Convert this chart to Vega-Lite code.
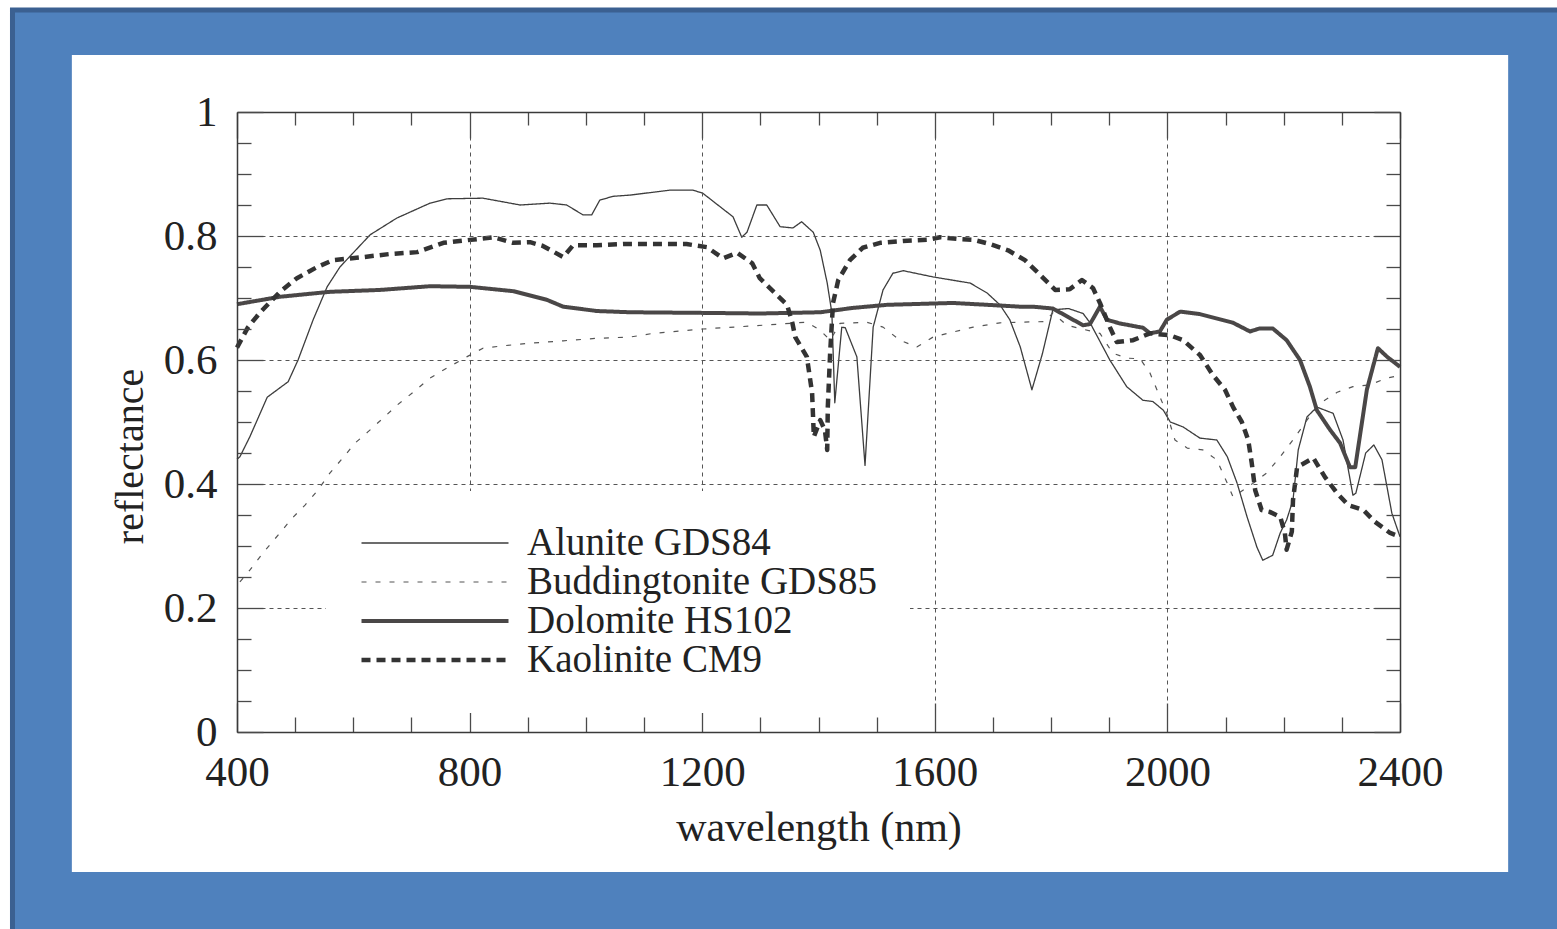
{
  "$schema": "https://vega.github.io/schema/vega-lite/v6.json",
  "width": 1163,
  "height": 620,
  "autosize": {"type": "none"},
  "padding": {"left": 237, "top": 112, "right": 157, "bottom": 197},
  "background": "#ffffff",
  "config": {
    "view": {"stroke": null},
    "font": "Liberation Serif",
    "axis": {
      "domainColor": "#3a3a3a",
      "domainWidth": 1.5,
      "tickColor": "#4a4a4a",
      "tickWidth": 1.3,
      "labelColor": "#222222",
      "titleColor": "#222222",
      "labelFont": "Liberation Serif",
      "titleFont": "Liberation Serif",
      "titleFontWeight": "normal",
      "zindex": 1
    },
    "legend": {"labelFont": "Liberation Serif", "labelColor": "#222222"}
  },
  "layer": [
    {
      "data": {"values": [{}]},
      "mark": {"type": "rect", "fill": "#4F81BD", "stroke": "#3B6091", "strokeWidth": 5, "clip": false},
      "encoding": {
        "x": {
          "datum": 13.9, "type": "quantitative",
          "scale": {"domain": [400, 2400], "nice": false, "zero": false},
          "axis": {
            "orient": "top", "title": null, "labels": false, "grid": false, "zindex": 1,
            "values": [400,500,600,700,800,900,1000,1100,1200,1300,1400,1500,1600,1700,1800,1900,2000,2100,2200,2300,2400],
            "tickSize": {"condition": {"test": "datum.value % 400 === 0", "value": -26}, "value": -13}
          }
        },
        "x2": {"datum": 2800},
        "y": {
          "datum": 1.1645, "type": "quantitative",
          "scale": {"domain": [0, 1], "nice": false, "zero": false},
          "axis": {
            "orient": "right", "title": null, "labels": false, "grid": false, "zindex": 1,
            "values": [0,0.05,0.1,0.15,0.2,0.25,0.3,0.35,0.4,0.45,0.5,0.55,0.6,0.65,0.7,0.75,0.8,0.85,0.9,0.95,1],
            "tickSize": {"condition": {"test": "abs(datum.value*5 - round(datum.value*5)) < 1e-6", "value": -26}, "value": -14}
          }
        },
        "y2": {"datum": -0.5}
      }
    },
    {
      "data": {"values": [{}]},
      "mark": {"type": "rect", "fill": "#ffffff", "clip": false},
      "encoding": {
        "x": {"datum": 116, "type": "quantitative", "scale": {"domain": [400, 2400], "nice": false, "zero": false}, "axis": null},
        "x2": {"datum": 2586},
        "y": {"datum": 1.092, "type": "quantitative", "scale": {"domain": [0, 1], "nice": false, "zero": false}, "axis": null},
        "y2": {"datum": -0.226}
      }
    },
    {
      "data": {"values": [
        {"m": "Alunite GDS84", "w": 400, "r": 0.44},
        {"m": "Alunite GDS84", "w": 405, "r": 0.444},
        {"m": "Alunite GDS84", "w": 422, "r": 0.476},
        {"m": "Alunite GDS84", "w": 452, "r": 0.54},
        {"m": "Alunite GDS84", "w": 488, "r": 0.565},
        {"m": "Alunite GDS84", "w": 505, "r": 0.6},
        {"m": "Alunite GDS84", "w": 531, "r": 0.665},
        {"m": "Alunite GDS84", "w": 555, "r": 0.718},
        {"m": "Alunite GDS84", "w": 577, "r": 0.75},
        {"m": "Alunite GDS84", "w": 629, "r": 0.802},
        {"m": "Alunite GDS84", "w": 675, "r": 0.829},
        {"m": "Alunite GDS84", "w": 732, "r": 0.853},
        {"m": "Alunite GDS84", "w": 761, "r": 0.86},
        {"m": "Alunite GDS84", "w": 823, "r": 0.861},
        {"m": "Alunite GDS84", "w": 887, "r": 0.85},
        {"m": "Alunite GDS84", "w": 938, "r": 0.853},
        {"m": "Alunite GDS84", "w": 967, "r": 0.85},
        {"m": "Alunite GDS84", "w": 995, "r": 0.834},
        {"m": "Alunite GDS84", "w": 1010, "r": 0.834},
        {"m": "Alunite GDS84", "w": 1024, "r": 0.858},
        {"m": "Alunite GDS84", "w": 1047, "r": 0.864},
        {"m": "Alunite GDS84", "w": 1076, "r": 0.866},
        {"m": "Alunite GDS84", "w": 1145, "r": 0.874},
        {"m": "Alunite GDS84", "w": 1184, "r": 0.874},
        {"m": "Alunite GDS84", "w": 1201, "r": 0.869},
        {"m": "Alunite GDS84", "w": 1231, "r": 0.847},
        {"m": "Alunite GDS84", "w": 1253, "r": 0.831},
        {"m": "Alunite GDS84", "w": 1268, "r": 0.798},
        {"m": "Alunite GDS84", "w": 1277, "r": 0.806},
        {"m": "Alunite GDS84", "w": 1294, "r": 0.85},
        {"m": "Alunite GDS84", "w": 1311, "r": 0.85},
        {"m": "Alunite GDS84", "w": 1334, "r": 0.815},
        {"m": "Alunite GDS84", "w": 1356, "r": 0.813},
        {"m": "Alunite GDS84", "w": 1371, "r": 0.823},
        {"m": "Alunite GDS84", "w": 1391, "r": 0.806},
        {"m": "Alunite GDS84", "w": 1403, "r": 0.777},
        {"m": "Alunite GDS84", "w": 1415, "r": 0.724},
        {"m": "Alunite GDS84", "w": 1423, "r": 0.676},
        {"m": "Alunite GDS84", "w": 1428, "r": 0.531},
        {"m": "Alunite GDS84", "w": 1440, "r": 0.653},
        {"m": "Alunite GDS84", "w": 1446, "r": 0.652},
        {"m": "Alunite GDS84", "w": 1466, "r": 0.605},
        {"m": "Alunite GDS84", "w": 1480, "r": 0.43},
        {"m": "Alunite GDS84", "w": 1494, "r": 0.653},
        {"m": "Alunite GDS84", "w": 1511, "r": 0.713},
        {"m": "Alunite GDS84", "w": 1528, "r": 0.74},
        {"m": "Alunite GDS84", "w": 1546, "r": 0.744},
        {"m": "Alunite GDS84", "w": 1597, "r": 0.734},
        {"m": "Alunite GDS84", "w": 1661, "r": 0.724},
        {"m": "Alunite GDS84", "w": 1690, "r": 0.708},
        {"m": "Alunite GDS84", "w": 1712, "r": 0.689},
        {"m": "Alunite GDS84", "w": 1729, "r": 0.665},
        {"m": "Alunite GDS84", "w": 1747, "r": 0.621},
        {"m": "Alunite GDS84", "w": 1767, "r": 0.552},
        {"m": "Alunite GDS84", "w": 1785, "r": 0.61},
        {"m": "Alunite GDS84", "w": 1803, "r": 0.681},
        {"m": "Alunite GDS84", "w": 1830, "r": 0.683},
        {"m": "Alunite GDS84", "w": 1855, "r": 0.675},
        {"m": "Alunite GDS84", "w": 1867, "r": 0.66},
        {"m": "Alunite GDS84", "w": 1901, "r": 0.6},
        {"m": "Alunite GDS84", "w": 1930, "r": 0.557},
        {"m": "Alunite GDS84", "w": 1958, "r": 0.535},
        {"m": "Alunite GDS84", "w": 1975, "r": 0.533},
        {"m": "Alunite GDS84", "w": 1993, "r": 0.519},
        {"m": "Alunite GDS84", "w": 2005, "r": 0.5},
        {"m": "Alunite GDS84", "w": 2027, "r": 0.492},
        {"m": "Alunite GDS84", "w": 2056, "r": 0.474},
        {"m": "Alunite GDS84", "w": 2085, "r": 0.471},
        {"m": "Alunite GDS84", "w": 2103, "r": 0.444},
        {"m": "Alunite GDS84", "w": 2120, "r": 0.401},
        {"m": "Alunite GDS84", "w": 2137, "r": 0.347},
        {"m": "Alunite GDS84", "w": 2154, "r": 0.298},
        {"m": "Alunite GDS84", "w": 2164, "r": 0.277},
        {"m": "Alunite GDS84", "w": 2181, "r": 0.285},
        {"m": "Alunite GDS84", "w": 2194, "r": 0.321},
        {"m": "Alunite GDS84", "w": 2205, "r": 0.342},
        {"m": "Alunite GDS84", "w": 2216, "r": 0.374},
        {"m": "Alunite GDS84", "w": 2225, "r": 0.455},
        {"m": "Alunite GDS84", "w": 2240, "r": 0.508},
        {"m": "Alunite GDS84", "w": 2257, "r": 0.524},
        {"m": "Alunite GDS84", "w": 2285, "r": 0.514},
        {"m": "Alunite GDS84", "w": 2302, "r": 0.471},
        {"m": "Alunite GDS84", "w": 2319, "r": 0.382},
        {"m": "Alunite GDS84", "w": 2324, "r": 0.385},
        {"m": "Alunite GDS84", "w": 2341, "r": 0.45},
        {"m": "Alunite GDS84", "w": 2355, "r": 0.463},
        {"m": "Alunite GDS84", "w": 2369, "r": 0.439},
        {"m": "Alunite GDS84", "w": 2386, "r": 0.353},
        {"m": "Alunite GDS84", "w": 2400, "r": 0.315},

        {"m": "Buddingtonite GDS85", "w": 405, "r": 0.242},
        {"m": "Buddingtonite GDS85", "w": 422, "r": 0.261},
        {"m": "Buddingtonite GDS85", "w": 445, "r": 0.289},
        {"m": "Buddingtonite GDS85", "w": 471, "r": 0.318},
        {"m": "Buddingtonite GDS85", "w": 495, "r": 0.345},
        {"m": "Buddingtonite GDS85", "w": 517, "r": 0.366},
        {"m": "Buddingtonite GDS85", "w": 539, "r": 0.39},
        {"m": "Buddingtonite GDS85", "w": 560, "r": 0.418},
        {"m": "Buddingtonite GDS85", "w": 582, "r": 0.442},
        {"m": "Buddingtonite GDS85", "w": 603, "r": 0.466},
        {"m": "Buddingtonite GDS85", "w": 625, "r": 0.484},
        {"m": "Buddingtonite GDS85", "w": 651, "r": 0.506},
        {"m": "Buddingtonite GDS85", "w": 675, "r": 0.527},
        {"m": "Buddingtonite GDS85", "w": 703, "r": 0.548},
        {"m": "Buddingtonite GDS85", "w": 732, "r": 0.571},
        {"m": "Buddingtonite GDS85", "w": 761, "r": 0.587},
        {"m": "Buddingtonite GDS85", "w": 795, "r": 0.605},
        {"m": "Buddingtonite GDS85", "w": 823, "r": 0.619},
        {"m": "Buddingtonite GDS85", "w": 858, "r": 0.623},
        {"m": "Buddingtonite GDS85", "w": 904, "r": 0.627},
        {"m": "Buddingtonite GDS85", "w": 961, "r": 0.631},
        {"m": "Buddingtonite GDS85", "w": 1019, "r": 0.635},
        {"m": "Buddingtonite GDS85", "w": 1076, "r": 0.637},
        {"m": "Buddingtonite GDS85", "w": 1116, "r": 0.643},
        {"m": "Buddingtonite GDS85", "w": 1201, "r": 0.65},
        {"m": "Buddingtonite GDS85", "w": 1287, "r": 0.655},
        {"m": "Buddingtonite GDS85", "w": 1380, "r": 0.661},
        {"m": "Buddingtonite GDS85", "w": 1403, "r": 0.648},
        {"m": "Buddingtonite GDS85", "w": 1420, "r": 0.632},
        {"m": "Buddingtonite GDS85", "w": 1437, "r": 0.659},
        {"m": "Buddingtonite GDS85", "w": 1483, "r": 0.661},
        {"m": "Buddingtonite GDS85", "w": 1511, "r": 0.653},
        {"m": "Buddingtonite GDS85", "w": 1540, "r": 0.632},
        {"m": "Buddingtonite GDS85", "w": 1569, "r": 0.621},
        {"m": "Buddingtonite GDS85", "w": 1597, "r": 0.637},
        {"m": "Buddingtonite GDS85", "w": 1631, "r": 0.645},
        {"m": "Buddingtonite GDS85", "w": 1666, "r": 0.653},
        {"m": "Buddingtonite GDS85", "w": 1712, "r": 0.66},
        {"m": "Buddingtonite GDS85", "w": 1747, "r": 0.661},
        {"m": "Buddingtonite GDS85", "w": 1790, "r": 0.662},
        {"m": "Buddingtonite GDS85", "w": 1803, "r": 0.676},
        {"m": "Buddingtonite GDS85", "w": 1827, "r": 0.656},
        {"m": "Buddingtonite GDS85", "w": 1884, "r": 0.643},
        {"m": "Buddingtonite GDS85", "w": 1906, "r": 0.611},
        {"m": "Buddingtonite GDS85", "w": 1930, "r": 0.603},
        {"m": "Buddingtonite GDS85", "w": 1953, "r": 0.602},
        {"m": "Buddingtonite GDS85", "w": 1970, "r": 0.579},
        {"m": "Buddingtonite GDS85", "w": 1982, "r": 0.552},
        {"m": "Buddingtonite GDS85", "w": 1999, "r": 0.514},
        {"m": "Buddingtonite GDS85", "w": 2013, "r": 0.471},
        {"m": "Buddingtonite GDS85", "w": 2034, "r": 0.458},
        {"m": "Buddingtonite GDS85", "w": 2061, "r": 0.455},
        {"m": "Buddingtonite GDS85", "w": 2085, "r": 0.439},
        {"m": "Buddingtonite GDS85", "w": 2103, "r": 0.401},
        {"m": "Buddingtonite GDS85", "w": 2113, "r": 0.379},
        {"m": "Buddingtonite GDS85", "w": 2147, "r": 0.401},
        {"m": "Buddingtonite GDS85", "w": 2171, "r": 0.418},
        {"m": "Buddingtonite GDS85", "w": 2194, "r": 0.444},
        {"m": "Buddingtonite GDS85", "w": 2216, "r": 0.471},
        {"m": "Buddingtonite GDS85", "w": 2240, "r": 0.503},
        {"m": "Buddingtonite GDS85", "w": 2262, "r": 0.53},
        {"m": "Buddingtonite GDS85", "w": 2292, "r": 0.548},
        {"m": "Buddingtonite GDS85", "w": 2319, "r": 0.557},
        {"m": "Buddingtonite GDS85", "w": 2348, "r": 0.56},
        {"m": "Buddingtonite GDS85", "w": 2378, "r": 0.571},
        {"m": "Buddingtonite GDS85", "w": 2400, "r": 0.575},

        {"m": "Dolomite HS102", "w": 400, "r": 0.69},
        {"m": "Dolomite HS102", "w": 474, "r": 0.702},
        {"m": "Dolomite HS102", "w": 560, "r": 0.71},
        {"m": "Dolomite HS102", "w": 646, "r": 0.713},
        {"m": "Dolomite HS102", "w": 732, "r": 0.719},
        {"m": "Dolomite HS102", "w": 801, "r": 0.718},
        {"m": "Dolomite HS102", "w": 875, "r": 0.711},
        {"m": "Dolomite HS102", "w": 933, "r": 0.697},
        {"m": "Dolomite HS102", "w": 961, "r": 0.686},
        {"m": "Dolomite HS102", "w": 1019, "r": 0.679},
        {"m": "Dolomite HS102", "w": 1076, "r": 0.677},
        {"m": "Dolomite HS102", "w": 1200, "r": 0.676},
        {"m": "Dolomite HS102", "w": 1300, "r": 0.675},
        {"m": "Dolomite HS102", "w": 1403, "r": 0.677},
        {"m": "Dolomite HS102", "w": 1459, "r": 0.684},
        {"m": "Dolomite HS102", "w": 1518, "r": 0.689},
        {"m": "Dolomite HS102", "w": 1631, "r": 0.692},
        {"m": "Dolomite HS102", "w": 1690, "r": 0.689},
        {"m": "Dolomite HS102", "w": 1747, "r": 0.686},
        {"m": "Dolomite HS102", "w": 1769, "r": 0.686},
        {"m": "Dolomite HS102", "w": 1803, "r": 0.683},
        {"m": "Dolomite HS102", "w": 1855, "r": 0.656},
        {"m": "Dolomite HS102", "w": 1867, "r": 0.658},
        {"m": "Dolomite HS102", "w": 1884, "r": 0.686},
        {"m": "Dolomite HS102", "w": 1896, "r": 0.665},
        {"m": "Dolomite HS102", "w": 1918, "r": 0.659},
        {"m": "Dolomite HS102", "w": 1958, "r": 0.652},
        {"m": "Dolomite HS102", "w": 1970, "r": 0.643},
        {"m": "Dolomite HS102", "w": 1987, "r": 0.646},
        {"m": "Dolomite HS102", "w": 1999, "r": 0.665},
        {"m": "Dolomite HS102", "w": 2022, "r": 0.678},
        {"m": "Dolomite HS102", "w": 2056, "r": 0.674},
        {"m": "Dolomite HS102", "w": 2113, "r": 0.66},
        {"m": "Dolomite HS102", "w": 2142, "r": 0.646},
        {"m": "Dolomite HS102", "w": 2159, "r": 0.651},
        {"m": "Dolomite HS102", "w": 2181, "r": 0.651},
        {"m": "Dolomite HS102", "w": 2205, "r": 0.632},
        {"m": "Dolomite HS102", "w": 2228, "r": 0.6},
        {"m": "Dolomite HS102", "w": 2245, "r": 0.557},
        {"m": "Dolomite HS102", "w": 2257, "r": 0.519},
        {"m": "Dolomite HS102", "w": 2280, "r": 0.487},
        {"m": "Dolomite HS102", "w": 2297, "r": 0.466},
        {"m": "Dolomite HS102", "w": 2314, "r": 0.427},
        {"m": "Dolomite HS102", "w": 2323, "r": 0.427},
        {"m": "Dolomite HS102", "w": 2343, "r": 0.552},
        {"m": "Dolomite HS102", "w": 2362, "r": 0.619},
        {"m": "Dolomite HS102", "w": 2378, "r": 0.605},
        {"m": "Dolomite HS102", "w": 2400, "r": 0.589},

        {"m": "Kaolinite CM9", "w": 400, "r": 0.62},
        {"m": "Kaolinite CM9", "w": 419, "r": 0.653},
        {"m": "Kaolinite CM9", "w": 440, "r": 0.677},
        {"m": "Kaolinite CM9", "w": 474, "r": 0.71},
        {"m": "Kaolinite CM9", "w": 503, "r": 0.732},
        {"m": "Kaolinite CM9", "w": 538, "r": 0.75},
        {"m": "Kaolinite CM9", "w": 565, "r": 0.761},
        {"m": "Kaolinite CM9", "w": 617, "r": 0.766},
        {"m": "Kaolinite CM9", "w": 663, "r": 0.771},
        {"m": "Kaolinite CM9", "w": 710, "r": 0.774},
        {"m": "Kaolinite CM9", "w": 755, "r": 0.789},
        {"m": "Kaolinite CM9", "w": 813, "r": 0.795},
        {"m": "Kaolinite CM9", "w": 841, "r": 0.798},
        {"m": "Kaolinite CM9", "w": 875, "r": 0.789},
        {"m": "Kaolinite CM9", "w": 904, "r": 0.79},
        {"m": "Kaolinite CM9", "w": 926, "r": 0.784},
        {"m": "Kaolinite CM9", "w": 961, "r": 0.766},
        {"m": "Kaolinite CM9", "w": 978, "r": 0.785},
        {"m": "Kaolinite CM9", "w": 1019, "r": 0.785},
        {"m": "Kaolinite CM9", "w": 1064, "r": 0.787},
        {"m": "Kaolinite CM9", "w": 1173, "r": 0.787},
        {"m": "Kaolinite CM9", "w": 1208, "r": 0.782},
        {"m": "Kaolinite CM9", "w": 1236, "r": 0.764},
        {"m": "Kaolinite CM9", "w": 1260, "r": 0.773},
        {"m": "Kaolinite CM9", "w": 1286, "r": 0.756},
        {"m": "Kaolinite CM9", "w": 1299, "r": 0.732},
        {"m": "Kaolinite CM9", "w": 1325, "r": 0.708},
        {"m": "Kaolinite CM9", "w": 1346, "r": 0.689},
        {"m": "Kaolinite CM9", "w": 1355, "r": 0.66},
        {"m": "Kaolinite CM9", "w": 1360, "r": 0.637},
        {"m": "Kaolinite CM9", "w": 1380, "r": 0.605},
        {"m": "Kaolinite CM9", "w": 1389, "r": 0.547},
        {"m": "Kaolinite CM9", "w": 1392, "r": 0.476},
        {"m": "Kaolinite CM9", "w": 1403, "r": 0.503},
        {"m": "Kaolinite CM9", "w": 1411, "r": 0.487},
        {"m": "Kaolinite CM9", "w": 1415, "r": 0.455},
        {"m": "Kaolinite CM9", "w": 1416, "r": 0.524},
        {"m": "Kaolinite CM9", "w": 1420, "r": 0.611},
        {"m": "Kaolinite CM9", "w": 1425, "r": 0.692},
        {"m": "Kaolinite CM9", "w": 1434, "r": 0.729},
        {"m": "Kaolinite CM9", "w": 1454, "r": 0.761},
        {"m": "Kaolinite CM9", "w": 1476, "r": 0.781},
        {"m": "Kaolinite CM9", "w": 1506, "r": 0.789},
        {"m": "Kaolinite CM9", "w": 1545, "r": 0.792},
        {"m": "Kaolinite CM9", "w": 1587, "r": 0.794},
        {"m": "Kaolinite CM9", "w": 1609, "r": 0.798},
        {"m": "Kaolinite CM9", "w": 1643, "r": 0.795},
        {"m": "Kaolinite CM9", "w": 1666, "r": 0.794},
        {"m": "Kaolinite CM9", "w": 1695, "r": 0.787},
        {"m": "Kaolinite CM9", "w": 1726, "r": 0.777},
        {"m": "Kaolinite CM9", "w": 1755, "r": 0.761},
        {"m": "Kaolinite CM9", "w": 1776, "r": 0.742},
        {"m": "Kaolinite CM9", "w": 1807, "r": 0.713},
        {"m": "Kaolinite CM9", "w": 1832, "r": 0.714},
        {"m": "Kaolinite CM9", "w": 1853, "r": 0.729},
        {"m": "Kaolinite CM9", "w": 1872, "r": 0.716},
        {"m": "Kaolinite CM9", "w": 1884, "r": 0.692},
        {"m": "Kaolinite CM9", "w": 1901, "r": 0.653},
        {"m": "Kaolinite CM9", "w": 1913, "r": 0.629},
        {"m": "Kaolinite CM9", "w": 1941, "r": 0.632},
        {"m": "Kaolinite CM9", "w": 1970, "r": 0.643},
        {"m": "Kaolinite CM9", "w": 2004, "r": 0.64},
        {"m": "Kaolinite CM9", "w": 2027, "r": 0.632},
        {"m": "Kaolinite CM9", "w": 2056, "r": 0.608},
        {"m": "Kaolinite CM9", "w": 2078, "r": 0.576},
        {"m": "Kaolinite CM9", "w": 2099, "r": 0.552},
        {"m": "Kaolinite CM9", "w": 2113, "r": 0.524},
        {"m": "Kaolinite CM9", "w": 2128, "r": 0.5},
        {"m": "Kaolinite CM9", "w": 2139, "r": 0.471},
        {"m": "Kaolinite CM9", "w": 2145, "r": 0.434},
        {"m": "Kaolinite CM9", "w": 2151, "r": 0.39},
        {"m": "Kaolinite CM9", "w": 2162, "r": 0.358},
        {"m": "Kaolinite CM9", "w": 2176, "r": 0.355},
        {"m": "Kaolinite CM9", "w": 2194, "r": 0.347},
        {"m": "Kaolinite CM9", "w": 2202, "r": 0.321},
        {"m": "Kaolinite CM9", "w": 2205, "r": 0.294},
        {"m": "Kaolinite CM9", "w": 2214, "r": 0.323},
        {"m": "Kaolinite CM9", "w": 2216, "r": 0.374},
        {"m": "Kaolinite CM9", "w": 2223, "r": 0.427},
        {"m": "Kaolinite CM9", "w": 2251, "r": 0.442},
        {"m": "Kaolinite CM9", "w": 2271, "r": 0.411},
        {"m": "Kaolinite CM9", "w": 2292, "r": 0.385},
        {"m": "Kaolinite CM9", "w": 2311, "r": 0.366},
        {"m": "Kaolinite CM9", "w": 2337, "r": 0.358},
        {"m": "Kaolinite CM9", "w": 2357, "r": 0.339},
        {"m": "Kaolinite CM9", "w": 2383, "r": 0.321},
        {"m": "Kaolinite CM9", "w": 2400, "r": 0.315}
      ]},
      "mark": {"type": "line", "strokeCap": "butt", "strokeJoin": "round"},
      "encoding": {
        "x": {
          "field": "w", "type": "quantitative",
          "scale": {"domain": [400, 2400], "nice": false, "zero": false},
          "axis": {
            "orient": "bottom",
            "title": "wavelength (nm)",
            "titleFontSize": 42,
            "titleY": 108,
            "titleBaseline": "alphabetic",
            "values": [400,500,600,700,800,900,1000,1100,1200,1300,1400,1500,1600,1700,1800,1900,2000,2100,2200,2300,2400],
            "format": "d",
            "labelExpr": "datum.value % 400 === 0 ? datum.label : ''",
            "labelFontSize": 43,
            "labelPadding": 48,
            "labelBaseline": "top",
            "labelFlush": false,
            "labelOverlap": false,
            "tickSize": {"condition": {"test": "datum.value % 400 === 0", "value": -29}, "value": -15},
            "grid": true,
            "gridColor": "#555555",
            "gridDash": [4, 4],
            "gridWidth": 1,
            "gridOpacity": {"condition": {"test": "datum.value % 400 === 0 && datum.value > 400 && datum.value < 2400", "value": 1}, "value": 0},
            "zindex": 1
          }
        },
        "y": {
          "field": "r", "type": "quantitative",
          "scale": {"domain": [0, 1], "nice": false, "zero": false},
          "axis": {
            "orient": "left",
            "title": "reflectance",
            "titleFontSize": 40,
            "titleAngle": 270,
            "titleX": -95,
            "titleY": 344,
            "titleAlign": "center",
            "titleBaseline": "alphabetic",
            "values": [0,0.05,0.1,0.15,0.2,0.25,0.3,0.35,0.4,0.45,0.5,0.55,0.6,0.65,0.7,0.75,0.8,0.85,0.9,0.95,1],
            "labelExpr": "abs(datum.value*5 - round(datum.value*5)) < 1e-6 ? format(datum.value, '~g') : ''",
            "labelFontSize": 43,
            "labelPadding": 46,
            "labelOverlap": false,
            "tickSize": {"condition": {"test": "abs(datum.value*5 - round(datum.value*5)) < 1e-6", "value": -26}, "value": -14},
            "grid": true,
            "gridColor": "#555555",
            "gridDash": [4, 4],
            "gridWidth": 1,
            "gridOpacity": {"condition": {"test": "abs(datum.value*5 - round(datum.value*5)) < 1e-6 && datum.value > 0.01 && datum.value < 0.99", "value": 1}, "value": 0},
            "zindex": 1
          }
        },
        "color": {
          "field": "m", "type": "nominal",
          "scale": {"domain": ["Alunite GDS84", "Buddingtonite GDS85", "Dolomite HS102", "Kaolinite CM9"], "range": ["#3d3d3d", "#555555", "#4a4747", "#333333"]},
          "legend": {"orient": "none", "legendX": 89, "legendY": 379, "title": null, "fillColor": "#ffffff", "padding": 33, "symbolType": "stroke", "symbolSize": 21609, "labelFontSize": 39, "labelOffset": 16, "clipHeight": 38, "rowPadding": 0, "labelLimit": 0, "zindex": 2}
        },
        "strokeDash": {
          "field": "m", "type": "nominal",
          "scale": {"domain": ["Alunite GDS84", "Buddingtonite GDS85", "Dolomite HS102", "Kaolinite CM9"], "range": [[1, 0], [5, 9], [1, 0], [9, 6]]},
          "legend": {"orient": "none", "legendX": 89, "legendY": 379, "title": null, "fillColor": "#ffffff", "padding": 33, "symbolType": "stroke", "symbolSize": 21609, "labelFontSize": 39, "labelOffset": 16, "clipHeight": 38, "rowPadding": 0, "labelLimit": 0, "zindex": 2}
        },
        "strokeWidth": {
          "field": "m", "type": "nominal",
          "scale": {"type": "ordinal", "domain": ["Alunite GDS84", "Buddingtonite GDS85", "Dolomite HS102", "Kaolinite CM9"], "range": [1.3, 1.2, 4, 4.5]},
          "legend": {"orient": "none", "legendX": 89, "legendY": 379, "title": null, "fillColor": "#ffffff", "padding": 33, "symbolType": "stroke", "symbolSize": 21609, "labelFontSize": 39, "labelOffset": 16, "clipHeight": 38, "rowPadding": 0, "labelLimit": 0, "zindex": 2}
        }
      }
    }
  ],
  "resolve": {"axis": {"x": "independent", "y": "independent"}}
}
